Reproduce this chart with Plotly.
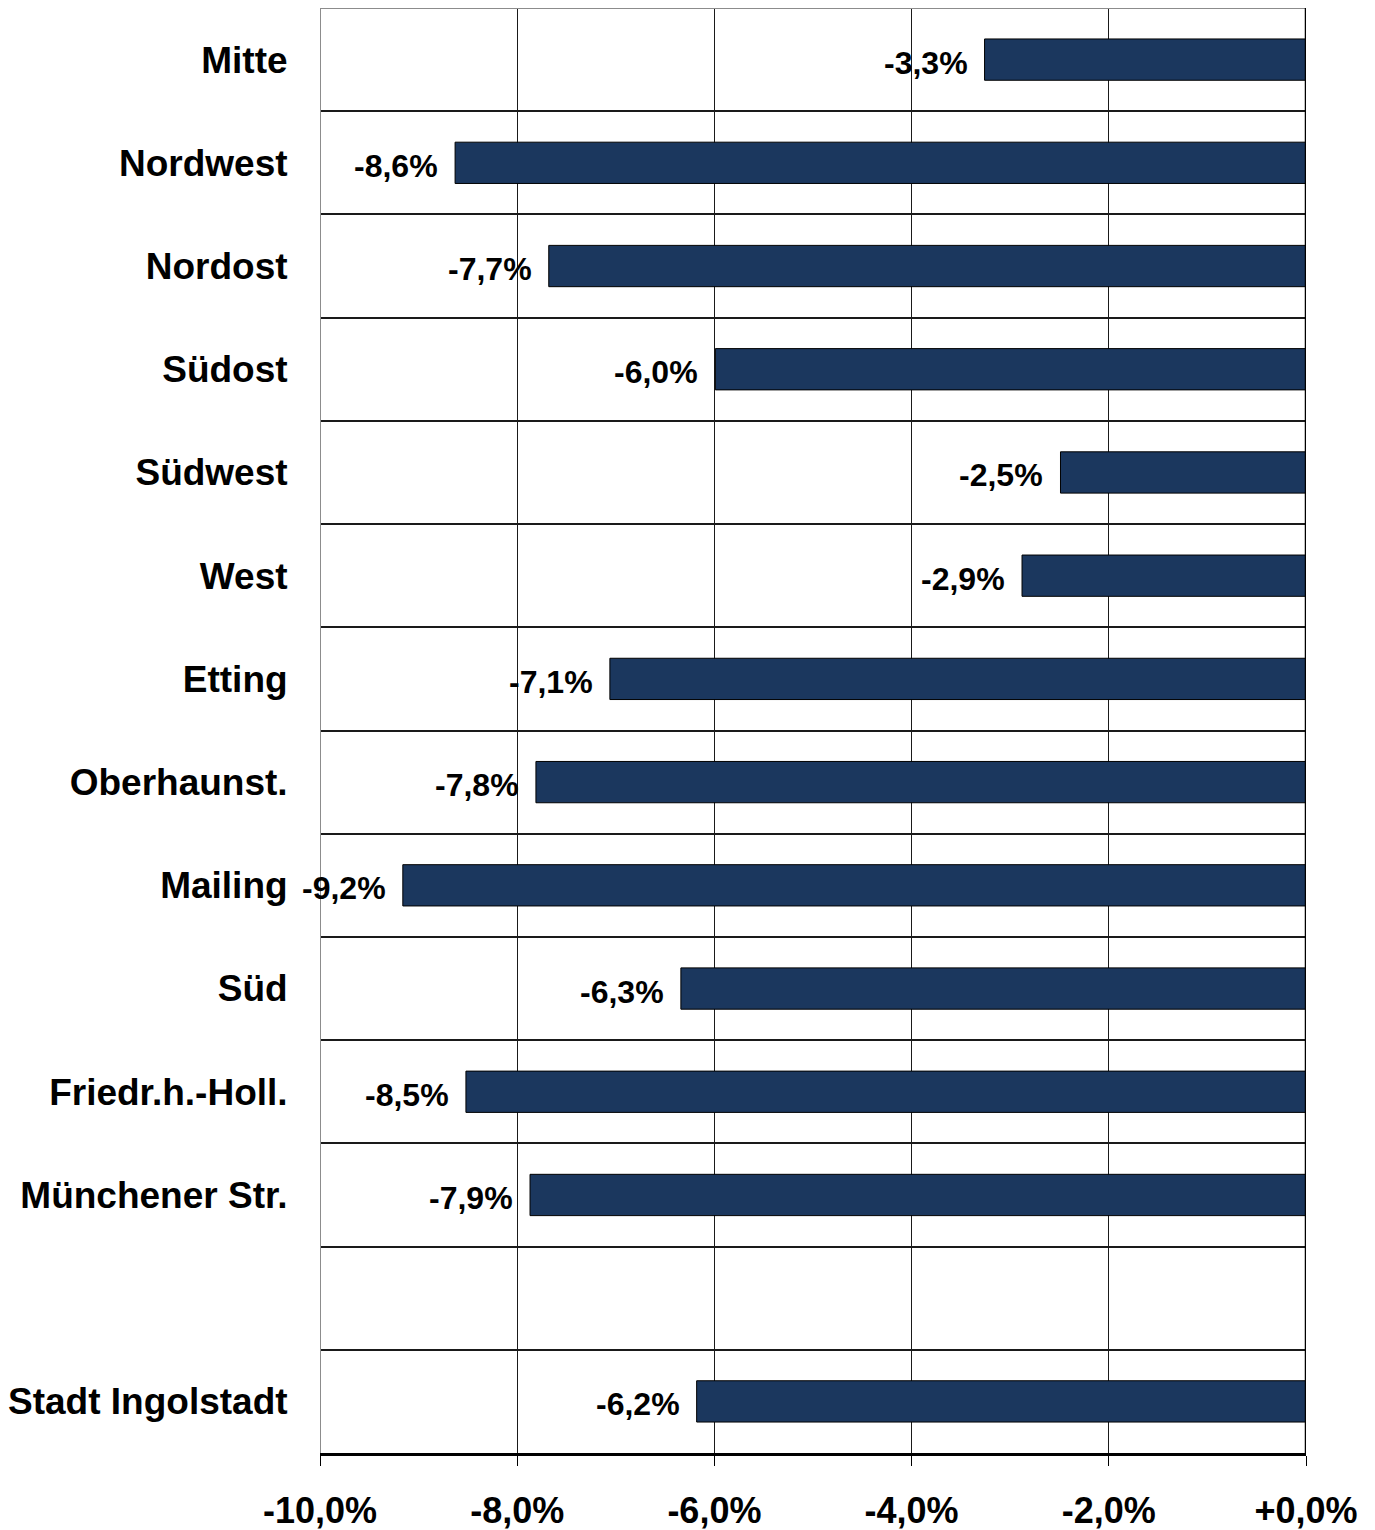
import plotly.graph_objects as go

categories = ["Mitte", "Nordwest", "Nordost", "Südost", "Südwest", "West", "Etting",
              "Oberhaunst.", "Mailing", "Süd", "Friedr.h.-Holl.", "Münchener Str.", "",
              "Stadt Ingolstadt"]
values = [-3.26, -8.63, -7.68, -5.99, -2.49, -2.88, -7.06, -7.81, -9.16, -6.34, -8.52, -7.87, None, -6.18]
value_labels = ["-3,3%", "-8,6%", "-7,7%", "-6,0%", "-2,5%", "-2,9%", "-7,1%", "-7,8%", "-9,2%",
                "-6,3%", "-8,5%", "-7,9%", "", "-6,2%"]
x_tickvals = [-10, -8, -6, -4, -2, 0]
x_ticktext = ["-10,0%", "-8,0%", "-6,0%", "-4,0%", "-2,0%", "+0,0%"]

FONT = "Liberation Sans, Arial, sans-serif"
BAR = "#1b375e"

pos = list(range(len(categories)))
bx = [v for v in values if v is not None]
by = [p for p, v in zip(pos, values) if v is not None]
bl = [l for l, v in zip(value_labels, values) if v is not None]

fig = go.Figure()
fig.add_trace(go.Bar(
    x=bx, y=by, orientation="h", width=0.4,
    marker=dict(color=BAR, line=dict(color="#000000", width=1)),
    showlegend=False, hoverinfo="skip",
))

for v, p, l in zip(bx, by, bl):
    fig.add_annotation(
        x=v, y=p, xref="x", yref="y", text=l, showarrow=False,
        xanchor="right", yanchor="middle", xshift=-15, yshift=-3,
        font=dict(family=FONT, size=32, color="#000000", weight="bold"),
    )

n = len(categories)
# frame lines
fig.add_shape(type="line", xref="x", yref="y", x0=-10, x1=-10, y0=-0.5, y1=n - 0.5,
              line=dict(color="#8c8c8c", width=2), layer="above")
fig.add_shape(type="line", xref="x", yref="y", x0=-10, x1=0, y0=-0.5, y1=-0.5,
              line=dict(color="#8c8c8c", width=2), layer="above")
fig.add_shape(type="line", xref="x", yref="y", x0=0, x1=0, y0=-0.5, y1=n - 0.5,
              line=dict(color="#000000", width=2.5), layer="above")

fig.update_layout(
    width=1367, height=1522,
    margin=dict(l=312, r=69, t=0, b=77, autoexpand=False),
    paper_bgcolor="white", plot_bgcolor="white",
    font=dict(family=FONT, color="#000000", weight="bold"),
)
fig.update_xaxes(
    range=[-10, 0], tickvals=x_tickvals, ticktext=x_ticktext,
    tickfont=dict(family=FONT, size=36, color="#000000", weight="bold"),
    showgrid=True, gridcolor="#1a1a1a", gridwidth=1,
    zeroline=False, automargin=False,
    showline=True, linecolor="#000000", linewidth=2.5,
    ticks="outside", ticklen=10, tickcolor="#000000", tickwidth=1,
    ticklabelstandoff=14,
)
fig.update_yaxes(
    range=[n - 0.5, -0.5], tickvals=pos, ticktext=categories,
    tickfont=dict(family=FONT, size=37, color="#000000", weight="bold"),
    showgrid=False, zeroline=False, showline=False, automargin=False,
    ticks="outside", ticklen=24, tickcolor="rgba(0,0,0,0)",
    minor=dict(tick0=0.5, dtick=1, showgrid=True, gridcolor="#1a1a1a", gridwidth=1.5, ticks=""),
)
fig.write_html("out.html")
